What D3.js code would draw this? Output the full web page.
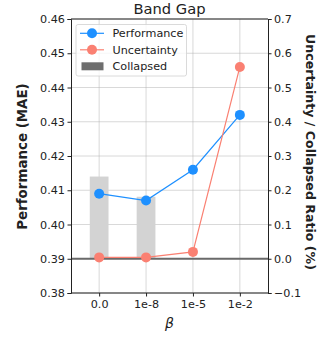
<!DOCTYPE html>
<html>
<head>
<meta charset="utf-8">
<script src="https://cdn.jsdelivr.net/npm/d3@7"></script>
<style>
  body { margin: 0; background: #fff; }
  text { font-family: "DejaVu Sans", sans-serif; fill: #222; }
</style>
</head>
<body>
<svg id="chart" width="331" height="338"></svg>
<script>
// DATA
var betas = ['0.0', '1e-8', '1e-5', '1e-2'];
var performance = [0.409, 0.407, 0.416, 0.432];
var uncertainty = [0.004, 0.004, 0.020, 0.560];
var collapsed = [0.24, 0.181, 0, 0];
var leftTicks = [0.38, 0.39, 0.40, 0.41, 0.42, 0.43, 0.44, 0.45, 0.46];
var rightTicks = [-0.1, 0.0, 0.1, 0.2, 0.3, 0.4, 0.5, 0.6, 0.7];

// layout
var M = { left: 71, right: 268, top: 19, bottom: 293 };
var svg = d3.select('#chart');

var x = d3.scaleLinear().domain([-0.6, 3.6]).range([M.left, M.right]);
var yL = d3.scaleLinear().domain([0.38, 0.46]).range([M.bottom, M.top]);
var yR = d3.scaleLinear().domain([-0.1, 0.7]).range([M.bottom, M.top]);

var gridColor = '#b0b0b0';

// grid
var grid = svg.append('g');
grid.selectAll('.hg').data(leftTicks).enter().append('line')
    .attr('x1', M.left).attr('x2', M.right)
    .attr('y1', function(d){ return yL(d); }).attr('y2', function(d){ return yL(d); })
    .attr('stroke', gridColor).attr('stroke-width', 0.8).attr('opacity', 0.6);
grid.selectAll('.vg').data(betas).enter().append('line')
    .attr('y1', M.top).attr('y2', M.bottom)
    .attr('x1', function(d, i){ return x(i); }).attr('x2', function(d, i){ return x(i); })
    .attr('stroke', gridColor).attr('stroke-width', 0.8).attr('opacity', 0.6);

// collapsed bars
svg.append('g').selectAll('rect').data(collapsed).enter().append('rect')
    .attr('x', function(d, i){ return x(i - 0.2); })
    .attr('width', x(0.4) - x(0))
    .attr('y', function(d){ return yR(d); })
    .attr('height', function(d){ return yR(0) - yR(d); })
    .attr('fill', '#d3d3d3');

// zero line of right axis
svg.append('line')
    .attr('x1', M.left).attr('x2', M.right)
    .attr('y1', yR(0)).attr('y2', yR(0))
    .attr('stroke', '#6a6a6a').attr('stroke-width', 1.8);

// performance line
var perfLine = d3.line().x(function(d, i){ return x(i); }).y(function(d){ return yL(d); });
svg.append('path').datum(performance).attr('d', perfLine)
    .attr('fill', 'none').attr('stroke', '#1e90ff').attr('stroke-width', 1.2);
svg.append('g').selectAll('circle').data(performance).enter().append('circle')
    .attr('cx', function(d, i){ return x(i); }).attr('cy', function(d){ return yL(d); })
    .attr('r', 5).attr('fill', '#1e90ff');

// uncertainty line
var uncLine = d3.line().x(function(d, i){ return x(i); }).y(function(d){ return yR(d); });
svg.append('path').datum(uncertainty).attr('d', uncLine)
    .attr('fill', 'none').attr('stroke', '#fa8072').attr('stroke-width', 1.2);
svg.append('g').selectAll('circle').data(uncertainty).enter().append('circle')
    .attr('cx', function(d, i){ return x(i); }).attr('cy', function(d){ return yR(d); })
    .attr('r', 5).attr('fill', '#fa8072');

// axes
var fmt = d3.format('.2f');
var axL = svg.append('g').attr('transform', 'translate(' + M.left + ',0)')
    .call(d3.axisLeft(yL).tickValues(leftTicks).tickFormat(fmt).tickSizeOuter(0).tickSize(3.5));
var axR = svg.append('g').attr('transform', 'translate(' + M.right + ',0)')
    .call(d3.axisRight(yR).tickValues(rightTicks).tickFormat(function(d){ return d3.format('.1f')(d).replace('-', '\u2212'); }).tickSizeOuter(0).tickSize(3.5));
var axB = svg.append('g').attr('transform', 'translate(0,' + M.bottom + ')')
    .call(d3.axisBottom(x).tickValues([0, 1, 2, 3]).tickFormat(function(d){ return betas[d]; }).tickSizeOuter(0).tickSize(3.5));

[axL, axR, axB].forEach(function(ax){
    ax.selectAll('text').style('font-size', '11.2px').attr('fill', '#222');
    ax.selectAll('line').attr('stroke', '#222');
    ax.select('.domain').attr('stroke', '#222');
});
axL.selectAll('text').attr('x', -6);
axR.selectAll('text').attr('x', 6);
axB.selectAll('text').attr('y', 7);
axB.select('.domain').remove();

// top / bottom frame
svg.append('line').attr('x1', M.left).attr('x2', M.right).attr('y1', M.top).attr('y2', M.top)
    .attr('stroke', '#222');
svg.append('line').attr('x1', M.left).attr('x2', M.right).attr('y1', M.bottom).attr('y2', M.bottom)
    .attr('stroke', '#222');

// titles
svg.append('text').attr('x', (M.left + M.right) / 2).attr('y', 13.5)
    .attr('text-anchor', 'middle').style('font-size', '14.7px').text('Band Gap');
svg.append('text').attr('transform', 'translate(27,156.5) rotate(-90)')
    .attr('text-anchor', 'middle').style('font-size', '13.4px').style('font-weight', 'bold')
    .text('Performance (MAE)');
svg.append('text').attr('transform', 'translate(306,152) rotate(90)')
    .attr('text-anchor', 'middle').style('font-size', '12.6px').style('font-weight', 'bold')
    .text('Uncertainty / Collapsed Ratio (%)');
svg.append('text').attr('x', (M.left + M.right) / 2).attr('y', 328)
    .attr('text-anchor', 'middle').style('font-size', '14px').style('font-style', 'italic')
    .text('\u03b2');

// legend
var lg = svg.append('g');
lg.append('rect').attr('x', 76).attr('y', 24.5).attr('width', 110.5).attr('height', 51.5).attr('rx', 2)
    .attr('fill', '#fff').attr('fill-opacity', 0.8).attr('stroke', '#d0d0d0').attr('stroke-width', 0.8);
var items = [
    { name: 'Performance', color: '#1e90ff', type: 'line' },
    { name: 'Uncertainty', color: '#fa8072', type: 'line' },
    { name: 'Collapsed', color: '#6e6e6e', type: 'patch' }
];
items.forEach(function(it, i){
    var yy = 33.3 + i * 16.5;
    if (it.type === 'line') {
        lg.append('line').attr('x1', 80).attr('x2', 104).attr('y1', yy).attr('y2', yy)
            .attr('stroke', it.color).attr('stroke-width', 1.2);
        lg.append('circle').attr('cx', 92).attr('cy', yy).attr('r', 5).attr('fill', it.color);
    } else {
        lg.append('rect').attr('x', 81.5).attr('y', yy - 4).attr('width', 22).attr('height', 8).attr('fill', it.color);
    }
    lg.append('text').attr('x', 112.5).attr('y', yy + 4).style('font-size', '11.2px').text(it.name);
});
</script>
</body>
</html>
